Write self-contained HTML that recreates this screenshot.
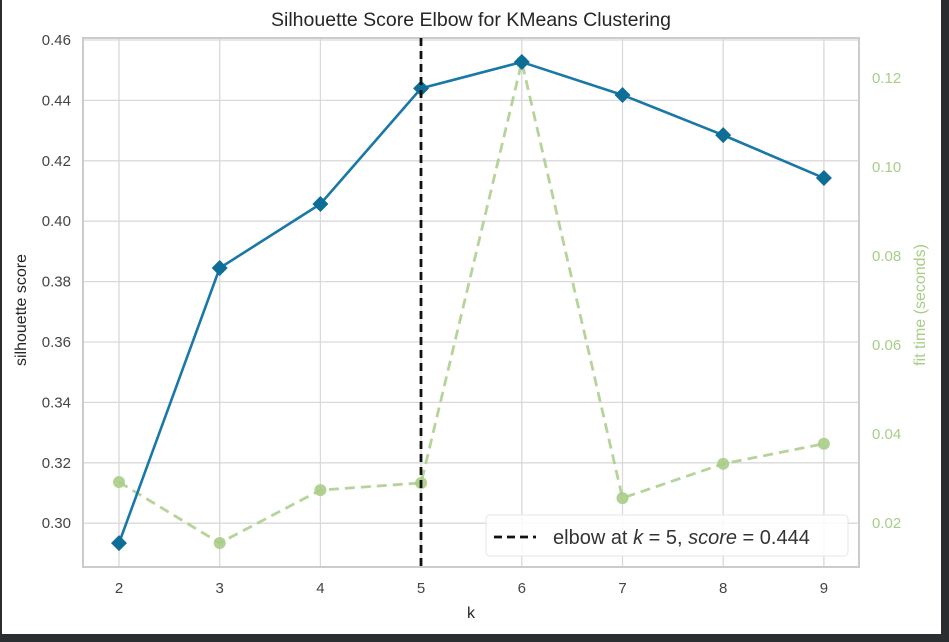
<!DOCTYPE html>
<html><head><meta charset="utf-8"><style>
html,body{margin:0;padding:0;background:#2b2e30;}
svg{display:block;font-family:"Liberation Sans",sans-serif;}
</style></head><body>
<svg width="949" height="642" xmlns="http://www.w3.org/2000/svg">
<rect x="2" y="0" width="939" height="634" fill="#ffffff"/>
<g id="grid"></g>
<rect x="83" y="38" width="776" height="529" fill="none" stroke="#cccccc" stroke-width="2"/>
<text x="471" y="26" font-size="19.5" fill="#262626" text-anchor="middle">Silhouette Score Elbow for KMeans Clustering</text>
<text x="471" y="618" font-size="16" fill="#262626" text-anchor="middle">k</text>
<text transform="translate(26,310) rotate(-90)" font-size="16" fill="#262626" text-anchor="middle">silhouette score</text>
<text transform="translate(925,305) rotate(-90)" font-size="16" fill="#a8cd87" text-anchor="middle">fit time (seconds)</text>
<g id="ticks"></g>
<g id="marks"></g>
<line x1="421" y1="38" x2="421" y2="567" stroke="#111" stroke-width="2.8" stroke-dasharray="8,5"/>
<g>
<rect x="486" y="515" width="362" height="41" rx="4" fill="#ffffff" fill-opacity="0.85" stroke="#e6e6e6"/>
<line x1="494" y1="537" x2="536" y2="537" stroke="#111" stroke-width="2.8" stroke-dasharray="8,5"/>
<text x="553" y="544" font-size="20" fill="#333">elbow at <tspan font-style="italic">k</tspan> = 5, <tspan font-style="italic">score</tspan> = 0.444</text>
</g>
</svg>
<script>
const ks=[2,3,4,5,6,7,8,9];
const scores=[0.2934,0.3845,0.4057,0.444,0.4527,0.4418,0.4285,0.4143];
const times=[0.0292,0.0155,0.0274,0.029,0.1236,0.0256,0.0333,0.0378];
const yTicks=[0.30,0.32,0.34,0.36,0.38,0.40,0.42,0.44,0.46];
const y2Ticks=[0.02,0.04,0.06,0.08,0.10,0.12];
const NS="http://www.w3.org/2000/svg";
const xs=k=>119+(k-2)*100.7;
const ys=v=>40+(0.46-v)/0.02*60.4;
const yt=v=>78+(0.12-v)/0.02*89;
function mk(tag,attrs,parent){const e=document.createElementNS(NS,tag);for(const a in attrs)e.setAttribute(a,attrs[a]);document.getElementById(parent).appendChild(e);return e;}
ks.forEach(k=>{
 const l=mk('line',{x1:xs(k),x2:xs(k),y1:38,y2:567,stroke:'#d9d9d9','stroke-width':1.3},'grid');
 
 
 const t=mk('text',{x:xs(k),y:593,'font-size':15,fill:'#444','text-anchor':'middle'},'ticks');t.textContent=k;
 
 
});
yTicks.forEach(v=>{
 const l=mk('line',{x1:83,x2:859,y1:ys(v),y2:ys(v),stroke:'#d9d9d9','stroke-width':1.3},'grid');
 
 
 const t=mk('text',{x:71,y:ys(v)+5,'font-size':15,fill:'#444','text-anchor':'end'},'ticks');t.textContent=v.toFixed(2);
 
 
});
y2Ticks.forEach(v=>{
 const t=mk('text',{x:872,y:yt(v)+5,'font-size':15,fill:'#a8cd87'},'ticks');t.textContent=v.toFixed(2);
 
 
});
const tl=mk('polyline',{points:ks.map((k,i)=>xs(k)+','+yt(times[i])).join(' '),fill:'none',stroke:'#a8cd87','stroke-width':2.8,'stroke-dasharray':'10,6','stroke-opacity':0.85},'marks');


ks.forEach((k,i)=>{
 const c=mk('circle',{cx:xs(k),cy:yt(times[i]),r:6,fill:'#a8cd87','fill-opacity':0.9},'marks');
 
 
});
const sl=mk('polyline',{points:ks.map((k,i)=>xs(k)+','+ys(scores[i])).join(' '),fill:'none',stroke:'#1a78a8','stroke-width':2.6},'marks');


ks.forEach((k,i)=>{
 const x=xs(k),y=ys(scores[i]),r=8;
 const p=mk('polygon',{points:`${x},${y-r} ${x+r},${y} ${x},${y+r} ${x-r},${y}`,fill:'#0f6e96'},'marks');
 
 
});
</script>
</body></html>
